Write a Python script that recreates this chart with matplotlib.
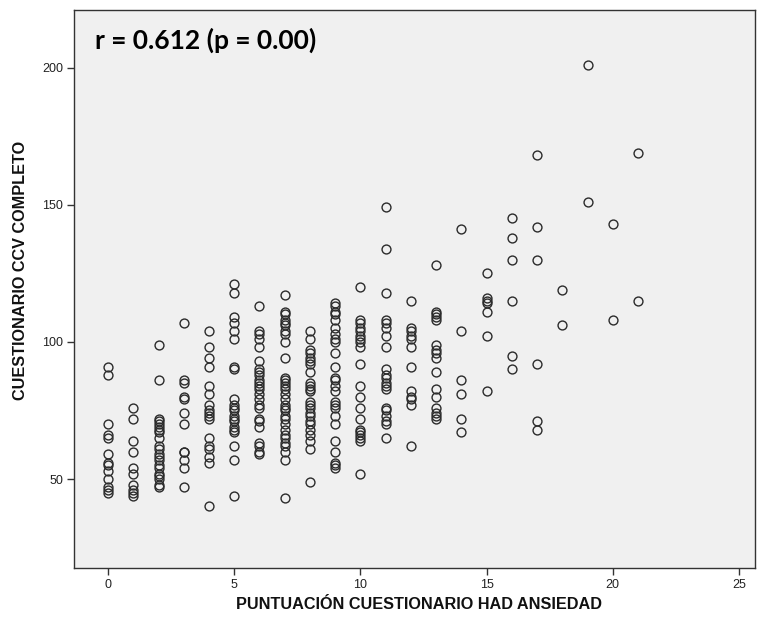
import matplotlib
matplotlib.use("Agg")
import matplotlib.pyplot as plt
import numpy as np

# HAD anxiety score (x) -> list of CCV questionnaire totals (y)
scores_by_had = {
    0: [91, 88, 70, 66, 65, 59, 56, 55, 53, 50, 47, 46, 45],
    1: [76, 72, 64, 60, 54, 52, 48, 46, 45, 44],
    2: [99, 86, 72, 71, 70, 69, 68, 67, 65, 62, 61, 59, 58, 57, 55, 54, 52, 51, 50, 48, 47],
    3: [107, 86, 85, 80, 79, 74, 70, 60, 60, 57, 54, 47],
    4: [104, 98, 94, 91, 84, 81, 77, 75, 74, 73, 72, 65, 62, 61, 58, 56, 40],
    5: [121, 118, 109, 107, 104, 101, 91, 90, 79, 77, 76, 75, 73, 72, 71, 69, 68, 67, 62, 57, 44],
    6: [113, 104, 103, 101, 98, 93, 90, 89, 88, 86, 85, 84, 83, 81, 79, 77, 76, 72, 71, 69, 63, 62, 60, 59],
    7: [117, 111, 110, 108, 107, 106, 104, 103, 100, 94, 87, 86, 85, 84, 83, 81, 79, 77, 76, 75,
        73, 72, 70, 68, 66, 65, 63, 62, 60, 57, 43],
    8: [104, 101, 97, 96, 94, 93, 92, 89, 85, 84, 83, 82, 78, 77, 76, 74, 73, 71, 70, 68, 66, 64, 61, 49],
    9: [114, 113, 111, 110, 108, 105, 103, 101, 100, 96, 91, 87, 86, 84, 82, 78, 77, 76, 73, 70,
        64, 60, 56, 55, 54],
    10: [120, 108, 107, 105, 104, 102, 101, 100, 98, 92, 84, 80, 76, 72, 68, 67, 66, 65, 64, 52],
    11: [149, 134, 118, 108, 107, 105, 102, 98, 90, 88, 87, 85, 84, 83, 76, 75, 73, 71, 70, 65],
    12: [115, 105, 104, 102, 101, 98, 91, 82, 80, 79, 77, 62],
    13: [128, 111, 110, 109, 108, 99, 97, 96, 94, 89, 83, 80, 76, 74, 73, 72],
    14: [141, 104, 86, 81, 72, 67],
    15: [125, 116, 115, 114, 111, 102, 82],
    16: [145, 138, 130, 115, 95, 90],
    17: [168, 142, 130, 92, 71, 68],
    18: [119, 106],
    19: [201, 151],
    20: [143, 108],
    21: [169, 115],
}

annotation = "r = 0.612 (p = 0.00)"
x_label = "PUNTUACIÓN CUESTIONARIO HAD ANSIEDAD"
y_label = "CUESTIONARIO CCV COMPLETO"
x_ticks = [0, 5, 10, 15, 20, 25]
y_ticks = [50, 100, 150, 200]

had = np.concatenate([[k] * len(v) for k, v in scores_by_had.items()])
ccv = np.concatenate([v for v in scores_by_had.values()])

fig = plt.figure(figsize=(7.63, 6.21), dpi=100)
ax = fig.add_axes([0.097, 0.085, 0.893, 0.899])
ax.set_facecolor("#f0f0f0")

ax.plot(had, ccv, linestyle="none", marker="o", markersize=6.4,
        markerfacecolor="none", markeredgecolor="#2b2b2b", markeredgewidth=1.0)

ax.set_xlim(-1.35, 25.65)
ax.set_ylim(17.5, 221)
ax.set_xticks(x_ticks)
ax.set_yticks(y_ticks)

tick_font = ["Liberation Sans Narrow", "Liberation Sans", "DejaVu Sans"]
for lab in ax.get_xticklabels() + ax.get_yticklabels():
    lab.set_family(tick_font)
    lab.set_fontsize(9)
    lab.set_color("#222222")
ax.tick_params(direction="out", length=5, width=1, color="#333333", pad=3)

for sp in ax.spines.values():
    sp.set_color("#333333")
    sp.set_linewidth(1.0)

label_font = ["Liberation Sans", "DejaVu Sans"]
ax.set_xlabel(x_label, family=label_font, fontweight="bold",
              fontsize=11.7, color="#111111")
ax.set_ylabel(y_label, family=label_font, fontweight="bold",
              fontsize=11.7, color="#111111")
ax.xaxis.set_label_coords(0.507, -0.052)
ax.yaxis.set_label_coords(-0.067, 0.533)

ax.text(0.031, 0.946, annotation, transform=ax.transAxes, ha="left", va="center",
        family=["Lato", "DejaVu Sans"], fontweight="bold", fontsize=19, color="black")

fig.savefig("out.png", dpi=100)
